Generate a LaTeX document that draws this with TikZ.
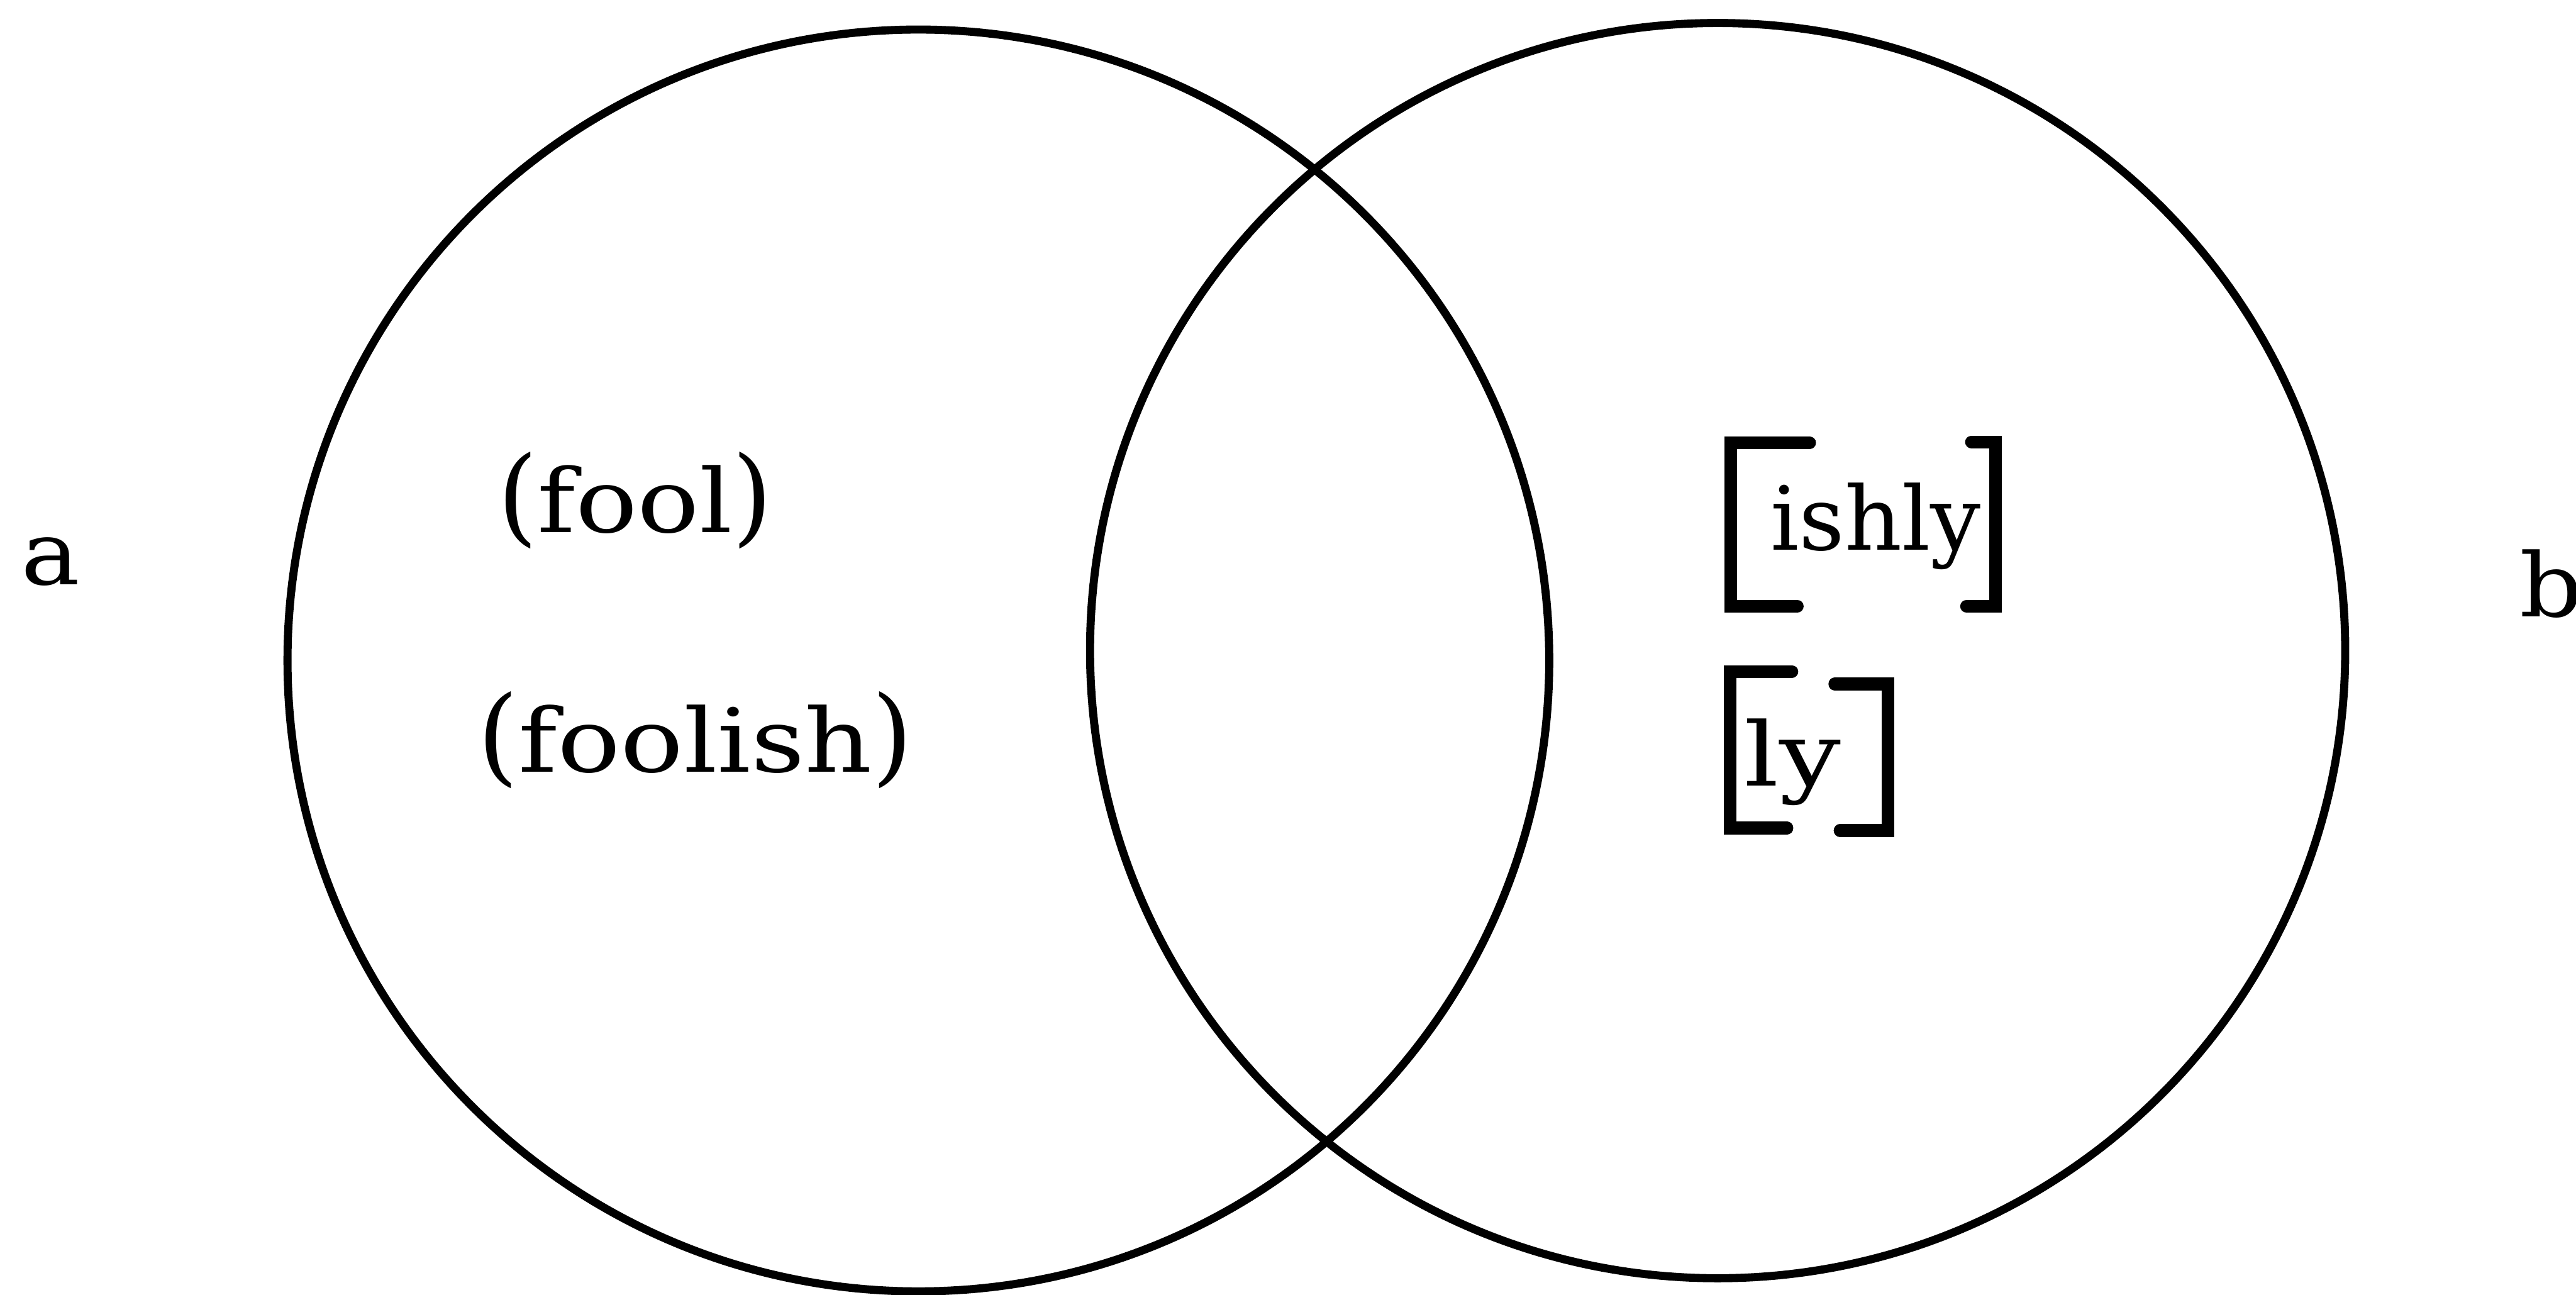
\documentclass[tikz,border=0pt]{standalone}
\usepackage{graphicx}
\usepackage{fontspec}
\newfontfamily\typefont{DejaVu Serif}
% typewriter parentheses stand taller than the letters
\newcommand\tallopen{\scalebox{1}[1.2]{(}}
\newcommand\tallclose{\scalebox{1}[1.2]{)}}
\begin{document}
\begin{tikzpicture}[
  ring/.style={draw=black, line width=1.4pt, circle, inner sep=0pt},
  label/.style={inner sep=0pt, anchor=base west, xscale=1.12, transform shape,
    font=\typefont\fontsize{15.3}{18}\selectfont},
  bracketline/.style={line width=2.2pt, line cap=round, line join=miter}
]
% page frame
\useasboundingbox[fill=white] (0,0) rectangle (15.68,7.88);

% the two sets
\node[ring, minimum size=7.68cm] (setA) at (5.59,3.86) {};
\node[ring, minimum size=7.64cm] (setB) at (10.455,3.92) {};

% set names
\node[label] (nameA) at (0.12,4.32) {a};
\node[label] (nameB) at (15.33,4.125) {b};

% members of a
\node[label, xscale=1.04] (fool) at (3.02,4.64) {\tallopen fool\tallclose};
\node[label, xscale=1.06] (foolish) at (2.90,3.18) {\tallopen foolish\tallclose};

% members of b
\node[label, xscale=0.9] (ishly) at (10.77,4.533) {ishly};
\node[label, xscale=1.1] (ly) at (10.61,3.098) {ly};

% brackets round the suffixes
\draw[bracketline] (11.015,5.185) -- (10.535,5.185) -- (10.535,4.19) -- (10.94,4.19);
\draw[bracketline] (12.00,5.19) -- (12.145,5.19) -- (12.145,4.19) -- (11.97,4.19);
\draw[bracketline] (10.907,3.793) -- (10.53,3.793) -- (10.53,2.84) -- (10.877,2.84);
\draw[bracketline] (11.168,3.717) -- (11.493,3.717) -- (11.493,2.825) -- (11.20,2.825);
\end{tikzpicture}
\end{document}
